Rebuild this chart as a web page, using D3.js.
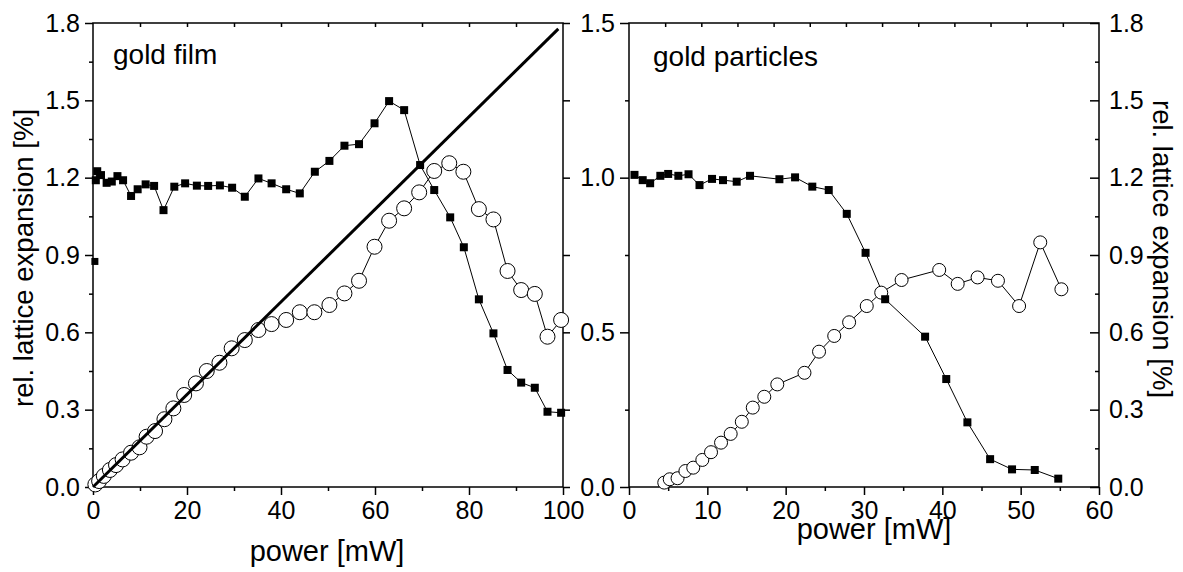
<!DOCTYPE html>
<html>
<head>
<meta charset="utf-8">
<script src="https://cdn.jsdelivr.net/npm/d3@7"></script>
<style>
body { margin: 0; background: #fff; }
text { font-family: Arial, "Liberation Sans", sans-serif; fill: #000; }
</style>
</head>
<body>
<svg id="chart" width="1183" height="572"></svg>
<script>
// gold film panel data
let filmSqX = [0.6, 0.9, 1.7, 2.9, 4.0, 5.2, 6.4, 8.1, 9.5, 11.2, 13.0, 15.0, 17.3, 19.6, 22.1, 24.5, 27.0, 29.6, 32.3, 35.2,
    38.0, 41.1, 44.0, 47.2, 50.3, 53.5, 56.6, 59.9, 63.0, 66.2, 69.6, 72.6, 76.0, 78.9, 82.1, 85.2, 88.2, 91.1, 94.0, 96.7, 99.6];
let filmSqY = [1.19, 1.225, 1.21, 1.18, 1.185, 1.206, 1.19, 1.129, 1.155, 1.174, 1.168, 1.074, 1.165, 1.178, 1.169, 1.168, 1.17, 1.161, 1.126, 1.197,
    1.178, 1.155, 1.139, 1.223, 1.265, 1.324, 1.33, 1.411, 1.497, 1.462, 1.249, 1.152, 1.046, 0.93, 0.728, 0.596, 0.454, 0.405, 0.385, 0.292, 0.288];
// single point on the axis, not joined to the rest
let filmLoneX = [0.4];
let filmLoneY = [0.875];
let filmCircX = [0.5, 1.3, 2.3, 3.6, 4.9, 6.3, 8.1, 9.9, 11.4, 13.2, 15.2, 17.1, 19.4, 21.9, 24.2, 26.9, 29.5, 32.3, 35.2, 38.0,
    41.1, 44.0, 47.1, 50.3, 53.5, 56.6, 59.9, 63.0, 66.2, 69.4, 72.6, 75.8, 78.8, 82.1, 85.2, 88.2, 91.1, 94.0, 96.7, 99.6];
let filmCircY = [0.01, 0.023, 0.043, 0.066, 0.085, 0.107, 0.133, 0.154, 0.195, 0.217, 0.263, 0.305, 0.357, 0.402, 0.45, 0.482, 0.538, 0.57, 0.609, 0.632,
    0.648, 0.678, 0.678, 0.706, 0.751, 0.8, 0.932, 1.033, 1.081, 1.143, 1.226, 1.256, 1.223, 1.078, 1.038, 0.838, 0.764, 0.749, 0.583, 0.648];
// straight fit line
let fitX = [0, 99];
let fitY = [0, 1.777];

// gold particles panel data
let partSqX = [0.7, 1.75, 2.7, 4.0, 5.0, 6.3, 7.6, 9.0, 10.6, 12.0, 13.75, 15.45, 19.2, 21.2, 23.4, 25.5, 27.8, 30.2, 32.7, 37.8, 40.5, 43.2, 46.1, 48.9, 51.8, 54.8];
let partSqY = [1.009, 0.992, 0.982, 1.006, 1.012, 1.006, 1.011, 0.976, 0.996, 0.992, 0.987, 1.006, 0.995, 1.001, 0.971, 0.96, 0.883, 0.757, 0.607, 0.486, 0.349, 0.209, 0.09, 0.057, 0.055, 0.027];
let partCircX = [4.5, 5.2, 6.2, 7.2, 8.2, 9.36, 10.47, 11.75, 12.98, 14.4, 15.8, 17.27, 18.93, 22.4, 24.26, 26.2, 28.1, 30.35, 32.2, 34.8, 39.6, 41.96, 44.5, 47.1, 49.8, 52.5, 55.2];
let partCircY = [0.017, 0.03, 0.034, 0.062, 0.075, 0.105, 0.135, 0.172, 0.206, 0.253, 0.308, 0.35, 0.398, 0.443, 0.525, 0.586, 0.639, 0.702, 0.754, 0.803, 0.842, 0.788, 0.813, 0.8, 0.702, 0.949, 0.767];

// tick labels
let filmXTicks = [0, 20, 40, 60, 80, 100];
let expTicks = [0.0, 0.3, 0.6, 0.9, 1.2, 1.5, 1.8];
let partXTicks = [0, 10, 20, 30, 40, 50, 60];
let partLeftTicks = [0.0, 0.5, 1.0, 1.5];

let svg = d3.select("#chart");
let yTop = 23, yBot = 487;
let fontSize = "25px";

// scales
let x1 = d3.scaleLinear().domain([0, 100]).range([93, 563]);
let y1 = d3.scaleLinear().domain([0, 1.8]).range([yBot, yTop]);
let x2 = d3.scaleLinear().domain([0, 60]).range([629, 1099]);
let y2L = d3.scaleLinear().domain([0, 1.5]).range([yBot, yTop]);
let y2R = d3.scaleLinear().domain([0, 1.8]).range([yBot, yTop]);
// the top axis of the right panel has 13 tick gaps
let x2Top = d3.scaleLinear().domain([0, 13]).range([629, 1099]);

// midpoints between major ticks
function minor(list) {
    let out = [];
    for (let i = 0; i < list.length - 1; i++) out.push((list[i] + list[i + 1]) / 2);
    return out;
}

// draw one axis and style it
function drawAxis(axis, tx, ty) {
    let g = svg.append("g")
        .attr("transform", "translate(" + tx + "," + ty + ")")
        .call(axis);
    g.select(".domain").remove();
    g.selectAll(".tick line").attr("stroke", "#000").attr("stroke-width", 1.5);
    g.selectAll("text").attr("font-size", fontSize).attr("font-family", "Arial, 'Liberation Sans', sans-serif").attr("fill", "#000");
    return g;
}

function fmt1(d) { return d.toFixed(1); }

// ---- left panel axes ----
drawAxis(d3.axisBottom(x1).tickValues(filmXTicks).tickSize(8).tickPadding(6).tickFormat(d3.format("d")), 0, yBot);
drawAxis(d3.axisBottom(x1).tickValues(minor(filmXTicks)).tickSize(4).tickFormat(""), 0, yBot);
drawAxis(d3.axisLeft(y1).tickValues(expTicks).tickSize(8).tickPadding(5).tickFormat(fmt1), 93, 0);
drawAxis(d3.axisLeft(y1).tickValues(minor(expTicks)).tickSize(4).tickFormat(""), 93, 0);
drawAxis(d3.axisTop(x1).tickValues(d3.range(10, 100, 10)).tickSizeInner(-4).tickSizeOuter(0).tickFormat(""), 0, yTop);
drawAxis(d3.axisRight(y1).tickValues(expTicks).tickSize(7).tickFormat(""), 563, 0);

// ---- right panel axes ----
drawAxis(d3.axisBottom(x2).tickValues(partXTicks).tickSize(8).tickPadding(6).tickFormat(d3.format("d")), 0, yBot);
drawAxis(d3.axisBottom(x2).tickValues(minor(partXTicks)).tickSize(4).tickFormat(""), 0, yBot);
drawAxis(d3.axisLeft(y2L).tickValues(partLeftTicks).tickSize(9).tickPadding(5).tickFormat(fmt1), 629, 0);
drawAxis(d3.axisLeft(y2L).tickValues(minor(partLeftTicks)).tickSize(4).tickFormat(""), 629, 0);
drawAxis(d3.axisRight(y2R).tickValues(expTicks).tickSizeInner(-9).tickSizeOuter(0).tickPadding(10).tickFormat(fmt1), 1099, 0);
drawAxis(d3.axisRight(y2R).tickValues(minor(expTicks)).tickSizeInner(-4).tickSizeOuter(0).tickFormat(""), 1099, 0);
drawAxis(d3.axisTop(x2Top).tickValues(d3.range(1, 13)).tickSizeInner(-4).tickSizeOuter(0).tickFormat(""), 0, yTop);

// frames
svg.append("rect").attr("x", 93).attr("y", yTop).attr("width", 470).attr("height", yBot - yTop)
    .attr("fill", "none").attr("stroke", "#000").attr("stroke-width", 1.5);
svg.append("rect").attr("x", 629).attr("y", yTop).attr("width", 470).attr("height", yBot - yTop)
    .attr("fill", "none").attr("stroke", "#000").attr("stroke-width", 1.5);

// ---- series ----
function zip(xs, ys) { return xs.map((d, i) => [d, ys[i]]); }

function drawLine(pts, xs, ys, w) {
    svg.append("path")
        .datum(pts)
        .attr("fill", "none")
        .attr("stroke", "#000")
        .attr("stroke-width", w)
        .attr("d", d3.line().x(d => xs(d[0])).y(d => ys(d[1])));
}

function drawSquares(pts, xs, ys, size) {
    svg.append("g").selectAll("rect").data(pts).join("rect")
        .attr("x", d => xs(d[0]) - size / 2)
        .attr("y", d => ys(d[1]) - size / 2)
        .attr("width", size)
        .attr("height", size)
        .attr("fill", "#000");
}

function drawCircles(pts, xs, ys, r) {
    svg.append("g").selectAll("circle").data(pts).join("circle")
        .attr("cx", d => xs(d[0]))
        .attr("cy", d => ys(d[1]))
        .attr("r", r)
        .attr("fill", "#fff")
        .attr("stroke", "#000")
        .attr("stroke-width", 1);
}

let filmSq = zip(filmSqX, filmSqY);
let filmCirc = zip(filmCircX, filmCircY);
let partSq = zip(partSqX, partSqY);
let partCirc = zip(partCircX, partCircY);

// left panel
drawLine(filmSq, x1, y1, 1);
drawLine(filmCirc, x1, y1, 1);
drawCircles(filmCirc, x1, y1, 7.5);
drawLine(zip(fitX, fitY), x1, y1, 3);
drawSquares(filmSq, x1, y1, 8);
drawSquares(zip(filmLoneX, filmLoneY), x1, y1, 7);

// right panel
drawLine(partSq, x2, y2L, 1);
drawLine(partCirc, x2, y2R, 1);
drawCircles(partCirc, x2, y2R, 6.5);
drawSquares(partSq, x2, y2L, 8);

// ---- text ----
svg.append("text").attr("x", 113).attr("y", 64).attr("font-size", "28px").text("gold film");
svg.append("text").attr("x", 653).attr("y", 66).attr("font-size", "28px").text("gold particles");

svg.append("text").attr("x", 327).attr("y", 561).attr("font-size", "29px")
    .attr("text-anchor", "middle").text("power [mW]");
svg.append("text").attr("x", 874).attr("y", 539).attr("font-size", "29px")
    .attr("text-anchor", "middle").text("power [mW]");

svg.append("text").attr("transform", "translate(33,258) rotate(-90)")
    .attr("font-size", "27.5px").attr("text-anchor", "middle").text("rel. lattice expansion [%]");
svg.append("text").attr("transform", "translate(1153,249) rotate(90)")
    .attr("font-size", "27.5px").attr("text-anchor", "middle").text("rel. lattice expansion [%]");
</script>
</body>
</html>
